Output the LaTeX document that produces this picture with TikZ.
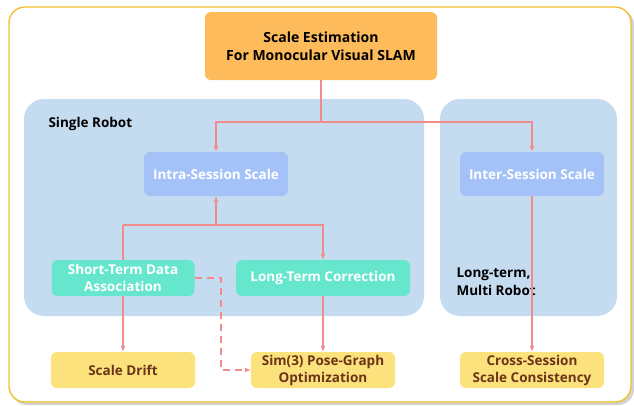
\documentclass[tikz,border=0pt]{standalone}
\usepackage{fontspec}
\setmainfont{Open Sans}
\usetikzlibrary{arrows.meta}
\definecolor{frameY}{HTML}{F2C230}
\definecolor{topOr}{HTML}{FDBB5B}
\definecolor{panelB}{HTML}{C5DCF0}
\definecolor{scaleB}{HTML}{A4C2F8}
\definecolor{teal}{HTML}{66E6CC}
\definecolor{yel}{HTML}{FCE27C}
\definecolor{brownT}{HTML}{6B3418}
\definecolor{conn}{HTML}{F28B8B}
\tikzset{
  bx/.style={rounded corners=6pt, minimum width=#1, inner sep=0pt, align=center, font=\bfseries\fontsize{13.5}{17}\selectfont},
  scalebox/.style={bx=144pt, minimum height=44pt, fill=scaleB, text=white},
  tealbox/.style={bx=143pt, minimum height=36pt, fill=teal, text=white},
  yelbox/.style={bx=144pt, minimum height=36pt, fill=yel, text=brownT},
  panel/.style={fill=panelB, rounded corners=20pt},
  lnk/.style={draw=conn, line width=1.6pt, -{Latex[length=6pt,width=5pt]}},
  lnkp/.style={draw=conn, line width=1.6pt},
}
\begin{document}
\begin{tikzpicture}[x=1pt,y=-1pt]
\useasboundingbox (0,0) rectangle (634,405);
\fill[gray!35, rounded corners=16pt] (11,9) rectangle (634,405);
\draw[frameY, line width=1.4pt, fill=white, rounded corners=16pt] (9,7) rectangle (631,402);
% panels
\fill[panel] (24,99) rectangle (424,316);
\fill[panel] (440,99) rectangle (617,316);
\node[anchor=west, font=\bfseries\fontsize{13.5}{16}\selectfont] (sr) at (45,124) {Single Robot};
\node[anchor=north west, align=left, font=\bfseries\fontsize{13.5}{18}\selectfont] (mr) at (453,264) {Long-term,\\Multi Robot};
% top
\node[bx=232pt, minimum height=68pt, fill=topOr, font=\bfseries\fontsize{14}{18}\selectfont] (top) at (321,46) {Scale Estimation\\For Monocular Visual SLAM};
% scale boxes
\node[scalebox] (intra) at (216,174) {Intra-Session Scale};
\node[scalebox] (inter) at (532,174) {Inter-Session Scale};
% teal
\node[tealbox] (short) at (123,278) {Short-Term Data\\Association};
\node[tealbox, minimum width=174pt] (long) at (323,278) {Long-Term Correction};
% yellow
\node[yelbox] (drift) at (123,370) {Scale Drift};
\node[yelbox] (sim) at (323,370) {Sim(3) Pose-Graph\\Optimization};
\node[yelbox] (cross) at (532,370) {Cross-Session\\Scale Consistency};
% connectors
\coordinate (j1) at (321,122);
\draw[lnkp] (top.south) -- (j1);
\draw[lnk] (j1) -| (intra.north);
\draw[lnk] (j1) -| (inter.north);
\coordinate (j2) at (216,225);
\draw[lnk] (j2 -| short.north) -- (j2 -| long.north) -- (long.north);
\draw[lnkp] (j2 -| short.north) -- (short.north);
\draw[lnk] (j2) -- (intra.south);
\draw[lnk] (short.south) -- (drift.north);
\draw[lnk] (long.south) -- (sim.north);
\draw[lnk] (inter.south) -- (cross.north);
\coordinate (d1) at (221,278);
\draw[lnk, dash pattern=on 7pt off 5pt] (short.east) -- (d1) |- (sim.west);
\end{tikzpicture}
\end{document}
